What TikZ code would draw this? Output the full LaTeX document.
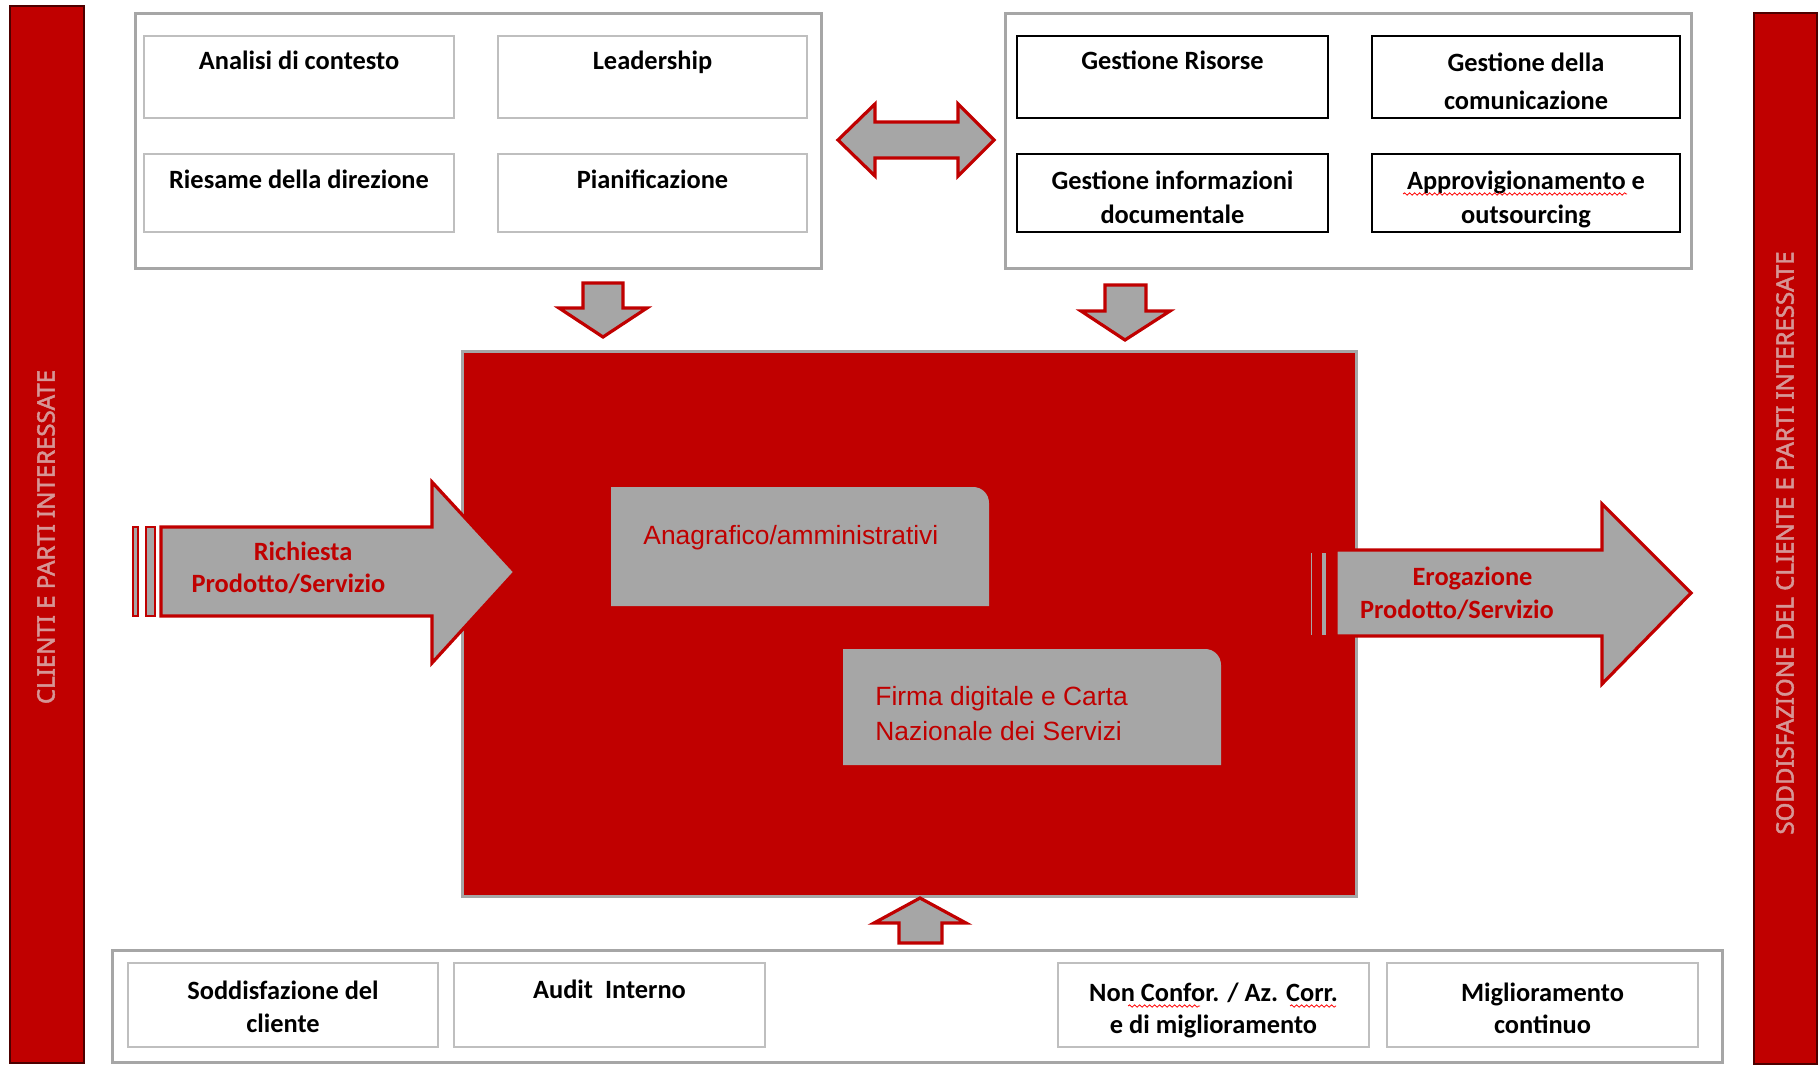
\documentclass[tikz,border=0pt]{standalone}
\usepackage{fontspec}
\setmainfont{Carlito}
\newfontfamily\arialf{Liberation Sans}
\newfontfamily\opensans[FakeBold=2]{Noto Sans}
\usetikzlibrary{decorations.pathmorphing}
\definecolor{dred}{RGB}{192,0,0}
\definecolor{agray}{RGB}{166,166,166}
\definecolor{lgray}{RGB}{191,191,191}
\definecolor{bartext}{RGB}{214,150,150}
\tikzset{
  groupbox/.style={draw=agray, line width=1.5pt, fill=white},
  lbox/.style={draw=lgray, line width=0.8pt, fill=white},
  dbox/.style={draw=black, line width=1pt, fill=white},
  lbl/.style={font=\fontsize{13.2}{15}\selectfont\bfseries, anchor=base, inner sep=0pt},
  arrlbl/.style={lbl, text=dred},
  ctext/.style={font=\arialf\fontsize{13.2}{15}\selectfont, text=dred, anchor=base west, inner sep=0pt},
  bigarrow/.style={fill=agray, draw=dred, line width=1.6pt, line join=miter},
  stripe/.style={fill=agray, draw=dred, line width=0.6pt},
  sidebar/.style={fill=dred, draw=black!60!dred, line width=0.8pt},
  sidetext/.style={font=\opensans\fontsize{12}{14}\selectfont, text=bartext, rotate=90, inner sep=0pt},
  graybox/.style={fill=agray},
  squiggle/.style={draw=red, line width=0.4pt, decorate, decoration={snake, amplitude=0.6pt, segment length=2.5pt}}
}
\begin{document}
\begin{tikzpicture}[x=0.5pt,y=-0.5pt]
\useasboundingbox (0,0) rectangle (1820,1070);
% side bars
\draw[sidebar] (10,6) rectangle (84,1063);
\node[sidetext] (lt) at (46,537) {CLIENTI E PARTI INTERESSATE};
\draw[sidebar] (1754,13) rectangle (1817,1064);
\node[sidetext] (rt) at (1785,543) {SODDISFAZIONE DEL CLIENTE E PARTI INTERESSATE};
% top-left group
\draw[groupbox] (135,14) rectangle (821,268);
\draw[lbox] (144,36) rectangle (454,118);
\draw[lbox] (498,36) rectangle (807,118);
\draw[lbox] (144,154) rectangle (454,232);
\draw[lbox] (498,154) rectangle (807,232);
\node[lbl] (t1) at (299,70) {Analisi di contesto};
\node[lbl] (t2) at (652.5,70) {Leadership};
\node[lbl] (t3) at (299,188) {Riesame della direzione};
\node[lbl] (t4) at (652.5,188) {Pianificazione};
% top-right group
\draw[groupbox] (1005,14) rectangle (1691,268);
\draw[dbox] (1017,36) rectangle (1328,118);
\draw[dbox] (1372,36) rectangle (1680,118);
\draw[dbox] (1017,154) rectangle (1328,232);
\draw[dbox] (1372,154) rectangle (1680,232);
\node[lbl] (r1) at (1172.5,70) {Gestione Risorse};
\node[lbl] (r2a) at (1526,72) {Gestione della};
\node[lbl] (r2b) at (1526,110) {comunicazione};
\node[lbl] (r3a) at (1172.5,189) {Gestione informazioni};
\node[lbl] (r3b) at (1172.5,223) {documentale};
\node[lbl] (r4a) at (1526,189) {Approvigionamento e};
\node[lbl] (r4b) at (1526,223) {outsourcing};
\draw[squiggle] (1403,194) -- (1627,194);
% double arrow
\draw[bigarrow] (838,140) -- (875,104) -- (875,122) -- (958,122) -- (958,104) -- (994,140) -- (958,176) -- (958,158) -- (875,158) -- (875,176) -- cycle;
% down arrows
\draw[bigarrow] (583,283) -- (623,283) -- (623,308) -- (647,308) -- (603,337) -- (559,308) -- (583,308) -- cycle;
\draw[bigarrow] (1105,285) -- (1146,285) -- (1146,311) -- (1170,311) -- (1125,340) -- (1081,311) -- (1105,311) -- cycle;
% central red box
\draw[fill=dred, draw=agray, line width=1.5pt] (462,351) rectangle (1356,896);
\fill[graybox] (611,606) -- (611,487) -- (973,487) .. controls (982,487) and (989,494) .. (989,503) -- (989,606) -- cycle;
\node[ctext] (c1) at (643,544) {Anagrafico/amministrativi};
\fill[graybox] (843,765) -- (843,649) -- (1205,649) .. controls (1214,649) and (1221,656) .. (1221,665) -- (1221,765) -- cycle;
\node[ctext] (c2a) at (875,705) {Firma digitale e Carta};
\node[ctext] (c2b) at (875,740) {Nazionale dei Servizi};
% left arrow
\draw[stripe] (133,527) rectangle (138,616);
\draw[stripe] (146,527) rectangle (155,616);
\draw[bigarrow] (161,527) -- (432,527) -- (432,482) -- (515,572) -- (432,663) -- (432,616) -- (161,616) -- cycle;
\node[arrlbl] (la1) at (303,560) {Richiesta};
\node[arrlbl] (la2) at (288.5,592) {Prodotto/Servizio};
% right arrow
\draw[stripe] (1310,552) rectangle (1313,636);
\draw[stripe] (1321,552) rectangle (1327,636);
\draw[bigarrow] (1336,550) -- (1602,550) -- (1602,504) -- (1691,593) -- (1602,684) -- (1602,636) -- (1336,636) -- cycle;
\node[arrlbl] (ra1) at (1472.5,585) {Erogazione};
\node[arrlbl] (ra2) at (1457,618) {Prodotto/Servizio};
% up arrow
\draw[bigarrow] (920,898) -- (966,923) -- (942,923) -- (942,943) -- (899,943) -- (899,923) -- (874,923) -- cycle;
% bottom group
\draw[groupbox] (112,950) rectangle (1722,1062);
\draw[lbox] (128,963) rectangle (438,1047);
\draw[lbox] (454,963) rectangle (765,1047);
\draw[lbox] (1058,963) rectangle (1369,1047);
\draw[lbox] (1387,963) rectangle (1698,1047);
\node[lbl] (b1a) at (283,999) {Soddisfazione del};
\node[lbl] (b1b) at (283,1032) {cliente};
\node[lbl] (b2) at (609.5,998) {Audit\ \ Interno};
\node[lbl] (b3a) at (1213.5,1001) {Non Confor. / Az. Corr.};
\node[lbl] (b3b) at (1213.5,1033) {e di miglioramento};
\node[lbl] (b4a) at (1542.5,1001) {Miglioramento};
\node[lbl] (b4b) at (1542.5,1033) {continuo};
\draw[squiggle] (1128,1006) -- (1200,1006);
\draw[squiggle] (1290,1006) -- (1336,1006);
\end{tikzpicture}
\end{document}
